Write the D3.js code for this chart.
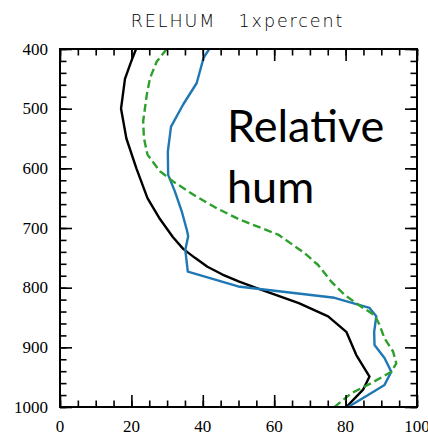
<!DOCTYPE html>
<html>
<head>
<meta charset="utf-8">
<script src="https://cdn.jsdelivr.net/npm/d3@7/dist/d3.min.js"></script>
<style>
  html, body { margin: 0; padding: 0; background: #fff; }
  svg { display: block; }
</style>
</head>
<body>
<svg id="chart" width="428" height="436"></svg>
<script>
// Relative humidity profiles (percent) against pressure (hPa)
const xTicks = [0, 20, 40, 60, 80, 100];
const yTicks = [400, 500, 600, 700, 800, 900, 1000];

const blackP = [400, 420, 450, 500, 550, 600, 650, 685, 715, 735, 750, 765, 778, 790, 801, 826, 848, 874, 913, 949, 971, 1000];
const blackV = [21.3, 20.0, 18.2, 17.1, 18.6, 21.4, 24.5, 28.0, 31.6, 34.5, 37.8, 41.3, 45.5, 50.2, 55.3, 66.9, 75.1, 80.2, 83.0, 86.7, 84.9, 80.2];

const blueP = [400, 415, 457, 493, 530, 572, 611, 639, 672, 705, 714, 737, 773, 798, 817, 834, 848, 874, 896, 918, 941, 963, 980, 1000];
const blueV = [41.8, 40.2, 38.3, 34.5, 31.1, 30.2, 30.3, 32.2, 34.1, 35.6, 35.9, 35.1, 35.8, 49.9, 76.9, 86.7, 88.6, 88.0, 88.1, 90.9, 92.8, 90.9, 86.3, 80.7];

const greenP = [400, 421, 449, 477, 521, 549, 577, 605, 622, 644, 667, 686, 711, 742, 762, 790, 812, 832, 846, 862, 885, 907, 927, 941, 960, 977, 1000];
const greenV = [29.9, 27.1, 25.2, 24.3, 23.3, 23.5, 24.5, 28.0, 31.7, 37.3, 43.9, 50.4, 61.1, 68.5, 72.3, 76.0, 79.7, 84.4, 88.1, 89.5, 90.9, 93.3, 94.2, 92.8, 87.2, 81.6, 76.9];

const series = [
  { p: blackP, v: blackV, color: "#000000", dash: null },
  { p: blueP,  v: blueV,  color: "#1f77b4", dash: null },
  { p: greenP, v: greenV, color: "#2ca02c", dash: "8,4" }
];

const plotLeft = 60, plotRight = 417, plotTop = 49, plotBottom = 407;
const svg = d3.select("#chart");

const x = d3.scaleLinear().domain([0, 100]).range([plotLeft, plotRight]);
const y = d3.scaleLinear().domain([400, 1000]).range([plotTop, plotBottom]);

svg.append("defs").append("clipPath").attr("id", "plotclip")
  .append("rect").attr("x", plotLeft).attr("y", plotTop)
  .attr("width", plotRight - plotLeft).attr("height", plotBottom - plotTop);

// profile lines
const line = d3.line().x(d => x(d[0])).y(d => y(d[1]));
const plot = svg.append("g").attr("clip-path", "url(#plotclip)");
series.forEach(s => {
  const pts = s.p.map((p, i) => [s.v[i], p]);
  plot.append("path")
    .attr("d", line(pts))
    .attr("fill", "none")
    .attr("stroke", s.color)
    .attr("stroke-width", 2.4)
    .attr("stroke-linejoin", "round")
    .attr("stroke-dasharray", s.dash);
});

// inward ticks on all four sides (labels drawn separately below)
const majorLen = 12, minorLen = 6.5;
function styleAxis(g) {
  g.select(".domain").remove();
  g.selectAll(".tick line").attr("stroke", "#000").attr("stroke-width", 1.6);
}
const xMinor = d3.range(0, 101, 5);
const yMinor = d3.range(400, 1001, 20);

[
  [d3.axisBottom(x), plotBottom, xMinor, xTicks, "x"],
  [d3.axisTop(x), plotTop, xMinor, xTicks, "x"],
  [d3.axisLeft(y), plotLeft, yMinor, yTicks, "y"],
  [d3.axisRight(y), plotRight, yMinor, yTicks, "y"]
].forEach(([axis, pos, minor, major, dim]) => {
  const tr = dim === "x" ? `translate(0,${pos})` : `translate(${pos},0)`;
  styleAxis(svg.append("g").attr("transform", tr)
    .call(axis.tickValues(minor).tickSize(-minorLen).tickFormat("")));
  styleAxis(svg.append("g").attr("transform", tr)
    .call(axis.tickValues(major).tickSize(-majorLen).tickFormat("")));
});

// tick labels
const fmt = d3.format("d");
svg.append("g").selectAll("text").data(xTicks).join("text")
  .attr("x", d => x(d)).attr("y", plotBottom + 25)
  .attr("text-anchor", "middle")
  .style("font-family", '"Liberation Serif"')
  .style("font-size", "17px")
  .style("fill", "#000")
  .text(fmt);
svg.append("g").selectAll("text").data(yTicks).join("text")
  .attr("x", plotLeft - 12).attr("y", d => y(d)).attr("dy", "0.33em")
  .attr("text-anchor", "end")
  .style("font-family", '"Liberation Serif"')
  .style("font-size", "17px")
  .style("fill", "#000")
  .text(fmt);

// frame
svg.append("rect").attr("x", plotLeft).attr("y", plotTop)
  .attr("width", plotRight - plotLeft).attr("height", plotBottom - plotTop)
  .attr("fill", "none").attr("stroke", "#000").attr("stroke-width", 2);

// title
svg.append("text")
  .attr("x", (plotLeft + plotRight) / 2 - 1).attr("y", 27)
  .attr("text-anchor", "middle")
  .style("font-family", '"DejaVu Sans Light"')
  .style("font-size", "17.5px")
  .style("letter-spacing", "1.9px")
  .style("fill", "#000")
  .attr("xml:space", "preserve")
  .text("RELHUM   1xpercent");

// annotation
const note = svg.append("text")
  .style("font-family", "Lato")
  .style("font-size", "45px")
  .style("fill", "#000");
note.append("tspan").attr("x", 227).attr("y", 142).text("Relative");
note.append("tspan").attr("x", 227).attr("y", 203).text("hum");
</script>
</body>
</html>
